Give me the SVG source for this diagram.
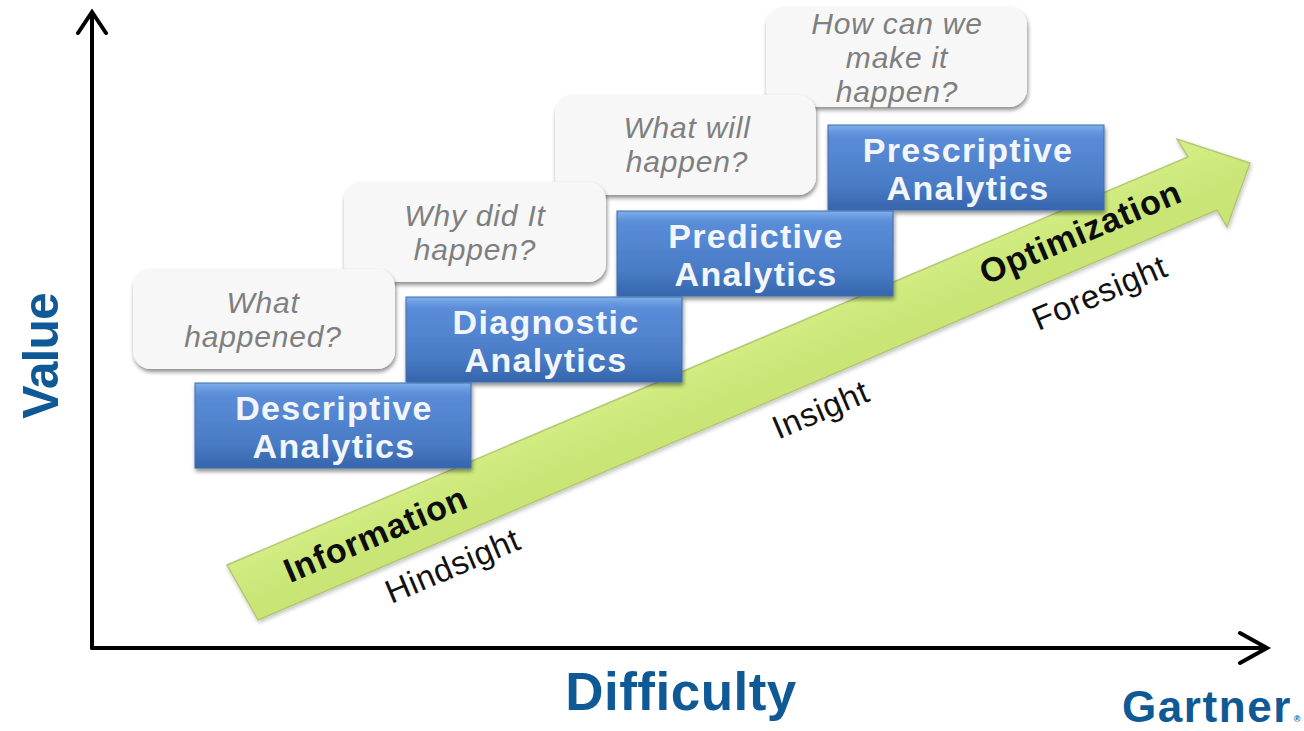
<svg xmlns="http://www.w3.org/2000/svg" width="1304" height="731" viewBox="0 0 1304 731">
<defs>
<linearGradient id="blue" x1="0" y1="0" x2="0" y2="1">
<stop offset="0" stop-color="#7fb0ea"/><stop offset="0.07" stop-color="#6a9be0"/><stop offset="0.14" stop-color="#5a8cd8"/><stop offset="0.7" stop-color="#4a7cc6"/><stop offset="1" stop-color="#3565ac"/>
</linearGradient>
<linearGradient id="green" gradientUnits="userSpaceOnUse" x1="700" y1="330" x2="730" y2="400">
<stop offset="0" stop-color="#d8f094"/><stop offset="0.5" stop-color="#d0ec80"/><stop offset="1" stop-color="#c8e576"/>
</linearGradient>
<filter id="sh" x="-10%" y="-10%" width="120%" height="125%"><feGaussianBlur in="SourceAlpha" stdDeviation="2"/><feOffset dy="3" dx="1"/><feComponentTransfer><feFuncA type="linear" slope="0.45"/></feComponentTransfer><feMerge><feMergeNode/><feMergeNode in="SourceGraphic"/></feMerge></filter>
<filter id="sh2" x="-5%" y="-5%" width="110%" height="115%"><feGaussianBlur in="SourceAlpha" stdDeviation="2"/><feOffset dy="2" dx="1"/><feComponentTransfer><feFuncA type="linear" slope="0.25"/></feComponentTransfer><feMerge><feMergeNode/><feMergeNode in="SourceGraphic"/></feMerge></filter>
</defs>
<style>
.q{fill:#f7f7f7;filter:url(#sh)}
.qt{font:italic 30px "Liberation Sans",Arial,sans-serif;letter-spacing:.8px;fill:#7f7f7f;text-anchor:middle}
.b{fill:url(#blue);stroke:#3f6cb0;stroke-width:1;filter:url(#sh)}
.bt{font:bold 34px "Liberation Sans",Arial,sans-serif;letter-spacing:1.3px;fill:#f2f6fb;text-anchor:middle}
.ax{fill:none;stroke:#000;stroke-width:4;stroke-linecap:round;stroke-linejoin:miter}
.at{font:bold 34px "Liberation Sans",Arial,sans-serif;letter-spacing:.8px;fill:#0d0d0d;text-anchor:middle}
.st{font:33px "Liberation Sans",Arial,sans-serif;letter-spacing:.6px;fill:#111;text-anchor:middle}
.lb{font-family:"Liberation Sans",Arial,sans-serif;font-weight:bold;fill:#0f5a96;text-anchor:middle}
</style>
<rect width="1304" height="731" fill="#fff"/>
<g id="connectors">
<path class="ax" d="M92 648V12M78 33L92 12L106 33"/>
<path class="ax" d="M92 648H1267M1240 633L1267 648L1240 663"/>
</g>
<g id="growth-arrow">
<path d="M227 565L1188 157L1177 139L1250 163L1227 227L1217 210L258 620Z" fill="url(#green)" stroke="#b4c872" stroke-width="1.5" filter="url(#sh2)"/>
<text class="at" transform="translate(380 545) rotate(-23)">Information</text>
<text class="at" transform="translate(1085 243) rotate(-23)">Optimization</text>
</g>
<g id="label-hindsight"><text class="st" transform="translate(457 576) rotate(-23)">Hindsight</text></g>
<g id="label-insight"><text class="st" transform="translate(825 420) rotate(-23)">Insight</text></g>
<g id="label-foresight"><text class="st" transform="translate(1104 303) rotate(-23)">Foresight</text></g>
<g id="q4"><rect class="q" x="766" y="7" width="261" height="100" rx="18"/>
<text class="qt" x="897" y="34">How can we</text><text class="qt" x="897" y="68">make it</text><text class="qt" x="897" y="102">happen?</text></g>
<g id="q3"><rect class="q" x="555" y="95" width="261" height="100" rx="18"/>
<text class="qt" x="687" y="138">What will</text><text class="qt" x="687" y="172">happen?</text></g>
<g id="q2"><rect class="q" x="344" y="182" width="262" height="100" rx="18"/>
<text class="qt" x="475" y="226">Why did It</text><text class="qt" x="475" y="260">happen?</text></g>
<g id="q1"><rect class="q" x="133" y="269" width="262" height="100" rx="18"/>
<text class="qt" x="263" y="313">What</text><text class="qt" x="263" y="347">happened?</text></g>
<g id="prescriptive"><rect class="b" x="828" y="125" width="276" height="85"/>
<text class="bt" x="968" y="162">Prescriptive</text><text class="bt" x="968" y="200">Analytics</text></g>
<g id="predictive"><rect class="b" x="617" y="211" width="276" height="85"/>
<text class="bt" x="756" y="248">Predictive</text><text class="bt" x="756" y="286">Analytics</text></g>
<g id="diagnostic"><rect class="b" x="406" y="297" width="276" height="85"/>
<text class="bt" x="546" y="334">Diagnostic</text><text class="bt" x="546" y="372">Analytics</text></g>
<g id="descriptive"><rect class="b" x="195" y="383" width="276" height="85"/>
<text class="bt" x="334" y="420">Descriptive</text><text class="bt" x="334" y="458">Analytics</text></g>
<g id="axis-labels">
<text class="lb" font-size="50" letter-spacing="-1" transform="translate(58 356) rotate(-90)">Value</text>
<text class="lb" font-size="53" x="681" y="710" letter-spacing=".5">Difficulty</text>
<text class="lb" font-size="44" x="1207" y="722" letter-spacing="1.6">Gartner</text>
<text class="lb" font-size="9" x="1297" y="722" font-weight="normal">®</text>
</g>
</svg>
